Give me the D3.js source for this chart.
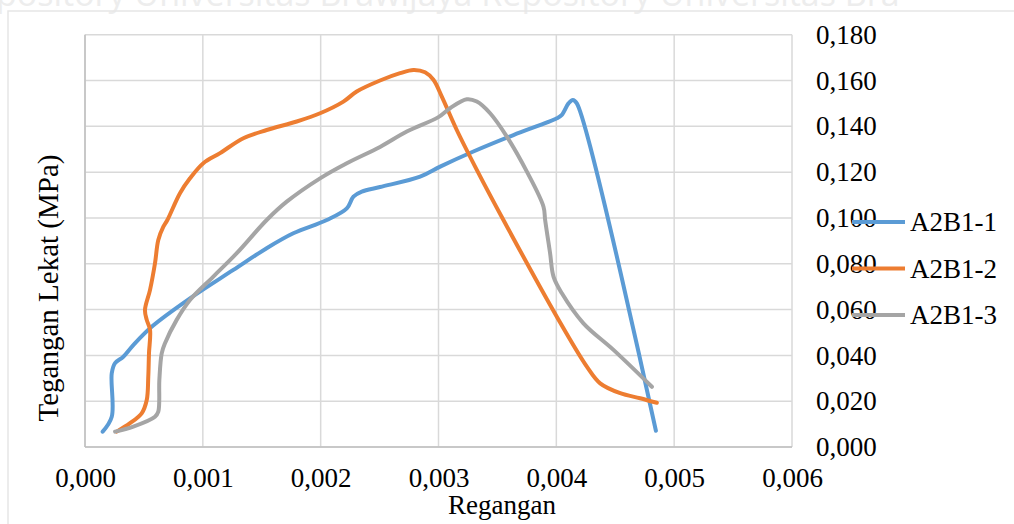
<!DOCTYPE html>
<html>
<head>
<meta charset="utf-8">
<script src="https://cdn.jsdelivr.net/npm/d3@7"></script>
<style>
  body { margin: 0; background: #fff; }
  svg { display: block; }
</style>
</head>
<body>
<div class="chart"></div>
<script>
var W = 1014, H = 524;
var margin = {top: 34.7, right: 222, bottom: 77, left: 85},
    width = W - margin.left - margin.right,
    height = H - margin.top - margin.bottom;

var seriesNames = ["A2B1-1", "A2B1-2", "A2B1-3"];
var colors = ["#5b9bd5", "#ed7d31", "#a5a5a5"];
var xTicks = [0, 0.001, 0.002, 0.003, 0.004, 0.005, 0.006];
var yTicks = [0, 0.02, 0.04, 0.06, 0.08, 0.10, 0.12, 0.14, 0.16, 0.18];

// [regangan, tegangan]
var a2b1_1 = [
  [0.000150, 0.0067], [0.000227, 0.0132], [0.000227, 0.0322], [0.000255, 0.0366],
  [0.000325, 0.0394], [0.000410, 0.0445], [0.000566, 0.0525], [0.000891, 0.0649],
  [0.001259, 0.0773], [0.001542, 0.0868], [0.001768, 0.0933], [0.002052, 0.0991],
  [0.002222, 0.1042], [0.002278, 0.1093], [0.002349, 0.1115], [0.002504, 0.1135],
  [0.002844, 0.1180], [0.003014, 0.1224], [0.003296, 0.1290], [0.003636, 0.1362],
  [0.004004, 0.1435], [0.004047, 0.1450], [0.004103, 0.1500], [0.004140, 0.1515],
  [0.004174, 0.1500], [0.004845, 0.0071]
];
var a2b1_2 = [
  [0.000269, 0.0067], [0.000382, 0.0104], [0.000481, 0.0147], [0.000524, 0.0205],
  [0.000537, 0.0307], [0.000543, 0.0409], [0.000552, 0.0511], [0.000524, 0.0555],
  [0.000509, 0.0598], [0.000552, 0.0686], [0.000594, 0.0802], [0.000622, 0.0904],
  [0.000665, 0.0962], [0.000699, 0.0991], [0.000806, 0.1108], [0.000891, 0.1173],
  [0.001004, 0.1239], [0.001146, 0.1283], [0.001344, 0.1348], [0.001542, 0.1384],
  [0.001797, 0.1421], [0.001995, 0.1457], [0.002193, 0.1508], [0.002306, 0.1552],
  [0.002504, 0.1600], [0.002674, 0.1632], [0.002787, 0.1646], [0.002886, 0.1636],
  [0.002957, 0.1603], [0.003028, 0.1530], [0.003155, 0.1384], [0.003325, 0.1210],
  [0.003551, 0.0991], [0.004004, 0.0569], [0.004259, 0.0351], [0.004372, 0.0278],
  [0.004542, 0.0235], [0.004711, 0.0213], [0.004853, 0.0193]
];
var a2b1_3 = [
  [0.000255, 0.0067], [0.000410, 0.0089], [0.000594, 0.0132], [0.000622, 0.0154],
  [0.000631, 0.0293], [0.000651, 0.0409], [0.000679, 0.0453], [0.000778, 0.0555],
  [0.000891, 0.0642], [0.001089, 0.0744], [0.001288, 0.0846], [0.001542, 0.0991],
  [0.001712, 0.1071], [0.001995, 0.1173], [0.002222, 0.1239], [0.002504, 0.1310],
  [0.002731, 0.1377], [0.002999, 0.1440], [0.003098, 0.1479], [0.003240, 0.1518],
  [0.003325, 0.1508], [0.003438, 0.1457], [0.003580, 0.1355], [0.003750, 0.1202],
  [0.003891, 0.1049], [0.003905, 0.0991], [0.003947, 0.0846], [0.003976, 0.0744],
  [0.004047, 0.0671], [0.004230, 0.0540], [0.004485, 0.0424], [0.004811, 0.0263]
];
var allSeries = [a2b1_1, a2b1_2, a2b1_3];

var fmt = function(d) { return d3.format(".3f")(d).replace(".", ","); };

var root = d3.select(".chart").append("svg")
    .attr("width", W).attr("height", H)
    .style("font-family", "'Liberation Serif', 'Times New Roman', serif");

// faint watermark + page frame from the scan
root.append("text")
    .attr("x", -4).attr("y", 6)
    .attr("font-family", "'Open Sans', sans-serif")
    .attr("font-size", 34).attr("fill", "#ededed")
    .text("pository Universitas Brawijaya    Repository Universitas Bra");
root.append("rect")
    .attr("x", 8).attr("y", 11).attr("width", W).attr("height", H)
    .attr("fill", "none").attr("stroke", "#e6e6e6").attr("stroke-width", 1.5);

var svg = root.append("g")
    .attr("transform", "translate(" + margin.left + "," + margin.top + ")");

var x = d3.scaleLinear().domain([0, 0.006]).range([0, width]);
var y = d3.scaleLinear().domain([0, 0.18]).range([height, 0]);

// grid
svg.append("g").selectAll("line").data(xTicks).enter().append("line")
    .attr("x1", function(d){ return x(d); }).attr("x2", function(d){ return x(d); })
    .attr("y1", 0).attr("y2", height)
    .attr("stroke", "#d9d9d9").attr("stroke-width", 1.5);
svg.append("g").selectAll("line").data(yTicks).enter().append("line")
    .attr("x1", 0).attr("x2", width)
    .attr("y1", function(d){ return y(d); }).attr("y2", function(d){ return y(d); })
    .attr("stroke", "#d9d9d9").attr("stroke-width", 1.5);

// axes lines
svg.append("line").attr("x1", 0).attr("x2", width).attr("y1", height).attr("y2", height)
    .attr("stroke", "#bfbfbf").attr("stroke-width", 1.5);
svg.append("line").attr("x1", 0).attr("x2", 0).attr("y1", 0).attr("y2", height)
    .attr("stroke", "#bfbfbf").attr("stroke-width", 1.5);

// y axis labels (on the right)
var yAxis = d3.axisRight(y).tickValues(yTicks).tickFormat(fmt).tickSize(0).tickPadding(24);
svg.append("g").attr("class", "y-Axis")
    .attr("transform", "translate(" + width + ",0)")
    .call(yAxis)
    .call(function(g){ g.select(".domain").remove(); })
    .selectAll("text")
    .attr("font-size", 27).attr("fill", "#000")
    .attr("font-family", "'Liberation Serif', serif");

// x axis labels
var xAxis = d3.axisBottom(x).tickValues(xTicks).tickFormat(fmt).tickSize(0).tickPadding(21);
svg.append("g").attr("class", "x-Axis")
    .attr("transform", "translate(0," + height + ")")
    .call(xAxis)
    .call(function(g){ g.select(".domain").remove(); })
    .selectAll("text")
    .attr("font-size", 27).attr("fill", "#000")
    .attr("font-family", "'Liberation Serif', serif");

// lines
var line = d3.line()
    .x(function(d){ return x(d[0]); })
    .y(function(d){ return y(d[1]); })
    .curve(d3.curveCatmullRom.alpha(0.5));

svg.selectAll(".pathChart").data(allSeries).enter().append("path")
    .attr("class", "pathChart")
    .attr("d", line)
    .attr("fill", "none")
    .attr("stroke", function(d, i){ return colors[i]; })
    .attr("stroke-width", 4)
    .attr("stroke-linecap", "round")
    .attr("stroke-linejoin", "round");

// legend
var legend = root.append("g").attr("transform", "translate(852,222)");
seriesNames.forEach(function(name, i) {
    var g = legend.append("g").attr("transform", "translate(0," + (i * 46.5) + ")");
    g.append("line").attr("x1", 0).attr("x2", 53).attr("y1", 0).attr("y2", 0)
        .attr("stroke", colors[i]).attr("stroke-width", 4);
    g.append("text").attr("x", 58).attr("y", 0).attr("dy", "0.35em")
        .attr("font-size", 27).attr("fill", "#000").text(name);
});

// axis titles
root.append("text")
    .attr("x", 502).attr("y", 514)
    .attr("text-anchor", "middle")
    .attr("font-size", 27).attr("fill", "#000")
    .text("Regangan");
root.append("text")
    .attr("transform", "translate(58,288) rotate(-90)")
    .attr("text-anchor", "middle")
    .attr("font-size", 29).attr("fill", "#000")
    .text("Tegangan Lekat (MPa)");
</script>
</body>
</html>
